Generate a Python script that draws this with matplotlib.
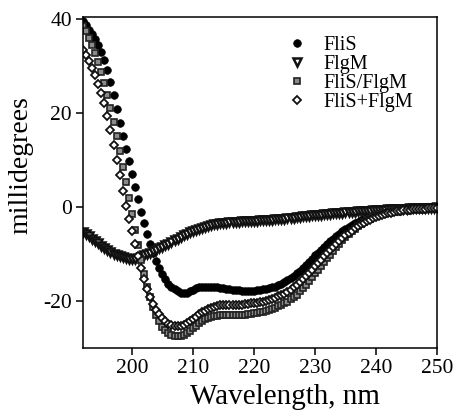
import numpy as np
import matplotlib
matplotlib.use("Agg")
import matplotlib.pyplot as plt

plt.rcParams['font.family'] = ['Liberation Serif', 'DejaVu Serif']
plt.rcParams['axes.unicode_minus'] = False

# wavelength grid (nm), 0.5 nm steps
wavelength = np.arange(192.0, 250.01, 0.5)

# CD signal (millidegrees)
flis = [
    39.5, 38.6, 37.7, 36.7, 35.6, 34.4, 33.0, 31.3, 29.2, 26.6,
    23.7, 20.8, 17.9, 15.1, 12.4, 9.7, 7.0, 4.3, 1.6, -1.0,
    -3.5, -5.8, -7.9, -9.8, -11.5, -13.0, -14.3, -15.4, -16.3, -17.0,
    -17.5, -17.9, -18.2, -18.3, -18.2, -17.9, -17.6, -17.3, -17.1, -17.0,
    -16.9, -16.9, -16.9, -17.0, -17.1, -17.2, -17.3, -17.4, -17.5, -17.6,
    -17.7, -17.7, -17.8, -17.8, -17.8, -17.8, -17.8, -17.7, -17.6, -17.5,
    -17.4, -17.3, -17.1, -16.9, -16.6, -16.3, -16.0, -15.6, -15.1, -14.6,
    -14.1, -13.5, -12.9, -12.3, -11.6, -11.0, -10.3, -9.7, -9.1, -8.5,
    -7.9, -7.3, -6.8, -6.2, -5.7, -5.2, -4.7, -4.3, -3.9, -3.5,
    -3.1, -2.8, -2.5, -2.2, -2.0, -1.8, -1.6, -1.4, -1.3, -1.2,
    -1.1, -1.0, -0.9, -0.8, -0.8, -0.7, -0.6, -0.6, -0.5, -0.5,
    -0.4, -0.4, -0.4, -0.3, -0.3, -0.3, -0.2,
]

flgm = [
    -5.3, -5.7, -6.2, -6.7, -7.2, -7.7, -8.2, -8.7, -9.1, -9.5,
    -9.9, -10.2, -10.5, -10.7, -10.9, -11.0, -11.0, -11.0, -10.8, -10.6,
    -10.3, -10.0, -9.7, -9.4, -9.1, -8.8, -8.5, -8.1, -7.8, -7.4,
    -7.1, -6.7, -6.4, -6.0, -5.7, -5.4, -5.1, -4.8, -4.6, -4.4,
    -4.2, -4.0, -3.8, -3.7, -3.6, -3.5, -3.4, -3.3, -3.2, -3.2,
    -3.1, -3.1, -3.0, -3.0, -3.0, -2.9, -2.9, -2.9, -2.8, -2.8,
    -2.8, -2.7, -2.7, -2.6, -2.6, -2.5, -2.5, -2.4, -2.3, -2.3,
    -2.2, -2.1, -2.0, -2.0, -1.9, -1.8, -1.7, -1.7, -1.6, -1.5,
    -1.5, -1.4, -1.3, -1.3, -1.2, -1.2, -1.1, -1.1, -1.0, -1.0,
    -0.9, -0.9, -0.8, -0.8, -0.8, -0.7, -0.7, -0.6, -0.6, -0.6,
    -0.5, -0.5, -0.5, -0.4, -0.4, -0.4, -0.4, -0.3, -0.3, -0.3,
    -0.3, -0.2, -0.2, -0.2, -0.2, -0.2, -0.1,
]

flis_flgm = [
    38.5, 37.3, 35.9, 34.4, 32.7, 30.8, 28.7, 26.4, 23.9, 21.1,
    18.1, 15.0, 11.8, 8.6, 5.3, 2.0, -1.4, -4.8, -8.1, -11.3,
    -14.2, -16.9, -19.2, -21.2, -22.9, -24.3, -25.4, -26.2, -26.8, -27.2,
    -27.4, -27.5, -27.4, -27.2, -26.8, -26.3, -25.8, -25.2, -24.7, -24.3,
    -23.9, -23.6, -23.4, -23.2, -23.1, -23.0, -23.0, -23.0, -23.0, -23.0,
    -23.0, -23.0, -23.0, -22.9, -22.8, -22.7, -22.6, -22.5, -22.4, -22.3,
    -22.1, -21.9, -21.7, -21.4, -21.1, -20.8, -20.5, -20.1, -19.6, -19.1,
    -18.6, -17.9, -17.2, -16.5, -15.7, -14.9, -14.1, -13.3, -12.5, -11.7,
    -10.9, -10.1, -9.3, -8.5, -7.8, -7.1, -6.4, -5.8, -5.2, -4.6,
    -4.1, -3.6, -3.2, -2.8, -2.5, -2.2, -1.9, -1.7, -1.5, -1.3,
    -1.2, -1.0, -0.9, -0.8, -0.8, -0.7, -0.6, -0.6, -0.5, -0.5,
    -0.4, -0.4, -0.4, -0.3, -0.3, -0.3, -0.2,
]

flis_plus_flgm = [
    33.3, 32.2, 31.0, 29.6, 28.0, 26.2, 24.2, 22.0, 19.4, 16.4,
    13.2, 10.0, 6.8, 3.5, 0.2, -2.6, -5.2, -7.9, -10.5, -13.0,
    -15.3, -17.4, -19.1, -20.6, -21.8, -22.8, -23.6, -24.3, -24.8, -25.1,
    -25.3, -25.3, -25.2, -25.0, -24.7, -24.3, -23.8, -23.3, -22.8, -22.4,
    -22.0, -21.7, -21.5, -21.3, -21.1, -20.9, -20.8, -20.8, -20.8, -20.8,
    -20.8, -20.8, -20.8, -20.7, -20.6, -20.5, -20.4, -20.3, -20.2, -20.1,
    -19.9, -19.7, -19.5, -19.3, -19.0, -18.7, -18.4, -18.0, -17.6, -17.1,
    -16.6, -16.0, -15.4, -14.7, -14.0, -13.3, -12.6, -11.9, -11.2, -10.5,
    -9.8, -9.1, -8.4, -7.8, -7.2, -6.6, -6.0, -5.5, -5.0, -4.5,
    -4.1, -3.7, -3.3, -3.0, -2.7, -2.4, -2.1, -1.9, -1.7, -1.5,
    -1.3, -1.2, -1.0, -0.9, -0.8, -0.7, -0.7, -0.6, -0.5, -0.5,
    -0.4, -0.4, -0.4, -0.3, -0.3, -0.3, -0.2,
]

labels = ['FliS', 'FlgM', 'FliS/FlgM', 'FliS+FlgM']

fig = plt.figure(figsize=(4.61, 4.13), dpi=100)
ax = fig.add_axes([0.180, 0.157, 0.768, 0.801])

ax.plot(wavelength, flis, 'o', ms=5.5, mfc='black', mec='black', mew=0.5,
        label=labels[0])
ax.plot(wavelength, flgm, 'v', ms=6, mfc='white', mec='#111111', mew=1.8,
        label=labels[1])
ax.plot(wavelength, flis_flgm, 's', ms=4.8, mfc='#8a8a8a', mec='#222222', mew=1.2,
        label=labels[2])
ax.plot(wavelength, flis_plus_flgm, 'D', ms=4.3, mfc='white', mec='#111111', mew=1.3,
        label=labels[3])

ax.set_xlim(192, 250)
ax.set_ylim(-30, 40.3)
ax.set_xticks([200, 210, 220, 230, 240, 250])
ax.set_yticks([-20, 0, 20, 40])

for s in ax.spines.values():
    s.set_linewidth(1.1)
ax.tick_params(direction='out', length=5, width=1.1, labelsize=15.5, pad=3,
               top=False, right=False)

ax.set_xlabel('Wavelength, nm', fontsize=21)
ax.set_ylabel('millidegrees', fontsize=20)
ax.xaxis.set_label_coords(0.571, -0.108)
ax.yaxis.set_label_coords(-0.141, 0.553)

ax.legend(loc='upper left', bbox_to_anchor=(0.578, 0.945), frameon=False,
          fontsize=14.5, labelspacing=0.0, handlelength=0.9,
          handletextpad=0.9, borderpad=0, borderaxespad=0)

fig.savefig('out.png', dpi=100)
